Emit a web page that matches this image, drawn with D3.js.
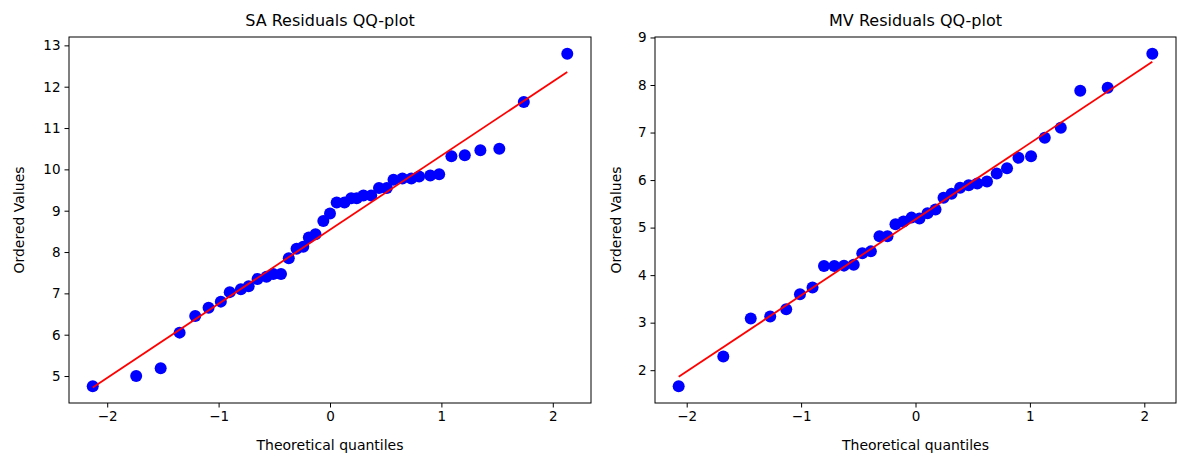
<!DOCTYPE html>
<html>
<head>
<meta charset="utf-8">
<script src="https://cdn.jsdelivr.net/npm/d3@7"></script>
<style>
  body { margin: 0; background: #fff; }
  text { font-family: "DejaVu Sans", sans-serif; fill: #000; }
</style>
</head>
<body>
<svg id="chart" width="1188" height="467"></svg>
<script>
// theoretical quantiles
var saQ = [-2.13, -1.74, -1.52, -1.35, -1.21, -1.09, -0.98, -0.90, -0.80, -0.73, -0.65, -0.57, -0.51, -0.44, -0.37, -0.30, -0.24, -0.19, -0.13, -0.06, 0,
  0.06, 0.13, 0.19, 0.24, 0.30, 0.37, 0.44, 0.51, 0.57, 0.65, 0.73, 0.80, 0.90, 0.98, 1.09, 1.21, 1.35, 1.52, 1.74, 2.13];
var saVals = [4.75, 5.0, 5.19, 6.05, 6.45, 6.65, 6.80, 7.03, 7.1, 7.17, 7.35, 7.40, 7.47, 7.47, 7.85, 8.08, 8.13, 8.35, 8.43, 8.75, 8.93,
  9.2, 9.2, 9.3, 9.3, 9.37, 9.37, 9.55, 9.55, 9.75, 9.78, 9.78, 9.83, 9.85, 9.88, 10.32, 10.34, 10.46, 10.5, 11.63, 12.8];

var mvQ = [-2.07, -1.68, -1.44, -1.27, -1.13, -1.01, -0.90, -0.80, -0.71, -0.625, -0.54, -0.465, -0.39, -0.315, -0.245, -0.175, -0.105, -0.035,
  0.035, 0.105, 0.175, 0.245, 0.315, 0.39, 0.465, 0.54, 0.625, 0.71, 0.80, 0.90, 1.01, 1.13, 1.27, 1.44, 1.68, 2.07];
var mvVals = [1.66, 2.29, 3.09, 3.13, 3.28, 3.6, 3.74, 4.19, 4.19, 4.2, 4.22, 4.46, 4.5, 4.82, 4.82, 5.07, 5.13, 5.21,
  5.19, 5.3, 5.38, 5.63, 5.71, 5.84, 5.89, 5.93, 5.97, 6.14, 6.25, 6.47, 6.5, 6.89, 7.1, 7.88, 7.94, 8.66];

var svg = d3.select("#chart");

function qqPlot(q, vals, left, right, title, labelOff) {
  var top = 37, bottom = 403;
  var qPad = (d3.max(q) - d3.min(q)) * 0.05;
  var vPad = (d3.max(vals) - d3.min(vals)) * 0.05;
  var x = d3.scaleLinear().domain([d3.min(q) - qPad, d3.max(q) + qPad]).range([left, right]);
  var y = d3.scaleLinear().domain([d3.min(vals) - vPad, d3.max(vals) + vPad]).range([bottom, top]);

  // least squares fit line
  var mq = d3.mean(q), mv = d3.mean(vals);
  var slope = d3.sum(q, (d, i) => (d - mq) * (vals[i] - mv)) / d3.sum(q, d => (d - mq) * (d - mq));
  var icpt = mv - slope * mq;

  var g = svg.append("g");
  g.selectAll("circle").data(q).enter().append("circle")
    .attr("cx", d => x(d)).attr("cy", (d, i) => y(vals[i]))
    .attr("r", 6).attr("fill", "#0000ff");

  var ends = [d3.min(q), d3.max(q)];
  g.append("line")
    .attr("x1", x(ends[0])).attr("y1", y(icpt + slope * ends[0]))
    .attr("x2", x(ends[1])).attr("y2", y(icpt + slope * ends[1]))
    .attr("stroke", "#ff0000").attr("stroke-width", 1.8);

  var xa = g.append("g").attr("transform", "translate(0," + bottom + ")")
    .call(d3.axisBottom(x).tickValues([-2, -1, 0, 1, 2]).tickSize(4.5).tickPadding(4)
      .tickFormat(d => d < 0 ? "\u2212" + Math.abs(d) : d));
  var ya = g.append("g").attr("transform", "translate(" + left + ",0)")
    .call(d3.axisLeft(y).ticks(8).tickFormat(d3.format("d")).tickSize(4.5).tickPadding(4));
  [xa, ya].forEach(a => {
    a.select(".domain").remove();
    a.selectAll("text").style("font-size", "13.5px").style("font-family", "DejaVu Sans");
    a.selectAll("line").attr("stroke", "#000");
  });

  g.append("rect").attr("x", left).attr("y", top).attr("width", right - left).attr("height", bottom - top)
    .attr("fill", "none").attr("stroke", "#000").attr("stroke-width", 1);

  g.append("text").attr("x", (left + right) / 2).attr("y", 26).attr("text-anchor", "middle")
    .style("font-size", "16px").text(title);
  g.append("text").attr("x", (left + right) / 2).attr("y", 450).attr("text-anchor", "middle")
    .style("font-size", "14px").text("Theoretical quantiles");
  g.append("text").attr("transform", "translate(" + (left - labelOff) + "," + ((top + bottom) / 2) + ") rotate(-90)")
    .attr("text-anchor", "middle").style("font-size", "14px").text("Ordered Values");
}

qqPlot(saQ, saVals, 69, 591, "SA Residuals QQ-plot", 45);
qqPlot(mvQ, mvVals, 655, 1176, "MV Residuals QQ-plot", 34);
</script>
</body>
</html>
